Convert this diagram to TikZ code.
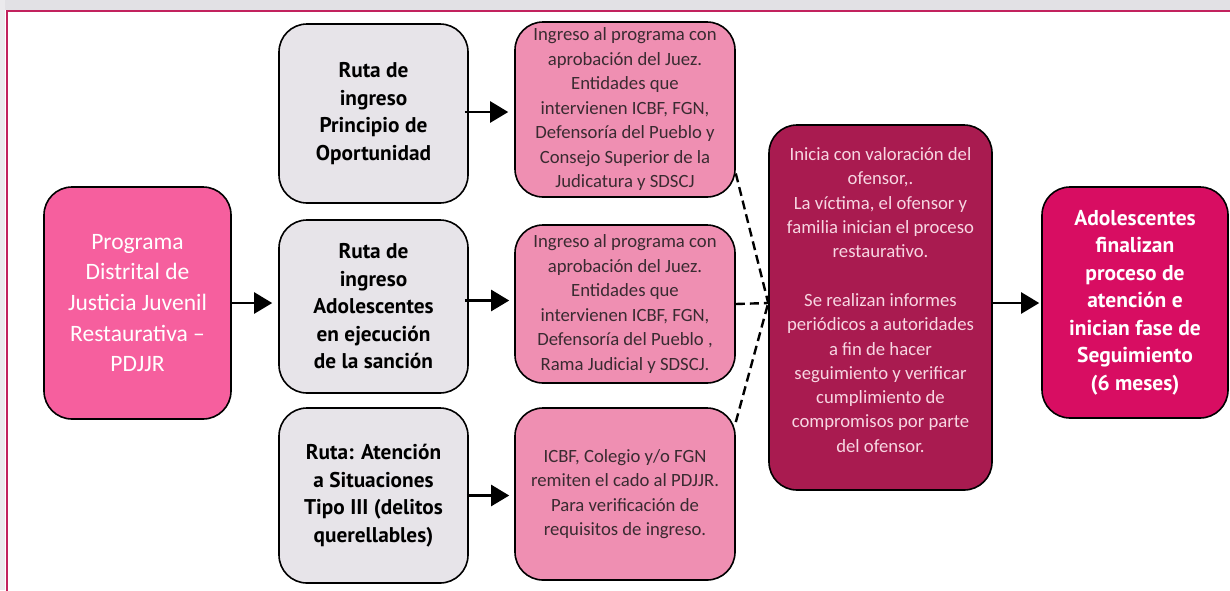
\documentclass[tikz,border=0pt]{standalone}
\usepackage{fontspec}
\setmainfont{Carlito}
\newfontfamily\boldsans{PT Sans}
\usetikzlibrary{arrows.meta,calc}
\definecolor{bandgray}{HTML}{E2E1E5}
\definecolor{framecol}{HTML}{C2225E}
\definecolor{startpink}{HTML}{F65F9E}
\definecolor{graybox}{HTML}{E7E4E9}
\definecolor{pinkbox}{HTML}{EF8FB2}
\definecolor{crimson}{HTML}{A91B50}
\definecolor{finalbox}{HTML}{D80D62}
\definecolor{darktext}{HTML}{3A2B31}
\definecolor{lighttext}{HTML}{F7D6E2}
\tikzset{
  box/.style={draw=black, line width=1.6pt, rounded corners=28pt, align=center, inner sep=0pt},
  startbox/.style={box, fill=startpink, text=white, minimum width=187pt, minimum height=232pt,
    font=\fontsize{23.5}{30.7}\selectfont},
  routebox/.style={box, fill=graybox, text=black, minimum width=189pt,
    font=\boldsans\bfseries\fontsize{21.3}{27.5}\selectfont},
  infobox/.style={box, fill=pinkbox, text=darktext, minimum width=220pt,
    font=\fontsize{18.7}{24.5}\selectfont},
  procbox/.style={box, fill=crimson, minimum width=223pt, minimum height=365pt},
  proctext/.style={align=center, inner sep=0pt, text=lighttext, font=\fontsize{18.7}{24.3}\selectfont},
  endbox/.style={box, fill=finalbox, text=white, minimum width=186pt, minimum height=231pt,
    font=\boldsans\bfseries\fontsize{21.5}{27.5}\selectfont},
  arr/.style={line width=2.3pt, -{Triangle[length=18pt,width=21pt]}},
  dsh/.style={line width=2.4pt, dash pattern=on 9pt off 5pt}
}
\begin{document}
\begin{tikzpicture}[x=1pt,y=-1pt]
\useasboundingbox (0,0) rectangle (1230,590);
\fill[bandgray] (0,0) rectangle (1230,10);
\fill[bandgray!70] (0,0) rectangle (5,590);
\draw[framecol, line width=2.2pt] (7,592) -- (7,11) -- (1232,11);

\node[startbox] (s) at (137.5,303) {Programa\\Distrital de\\Justicia Juvenil\\Restaurativa --\\PDJJR};

\node[routebox, minimum height=179pt] (g1) at (373.5,113.5) {Ruta de\\ingreso\\Principio de\\Oportunidad};
\node[routebox, minimum height=173pt] (g2) at (373.5,306.5) {Ruta de\\ingreso\\Adolescentes\\en ejecución\\de la sanción};
\node[routebox, minimum height=175pt] (g3) at (373.5,495.5) {Ruta: Atención\\a Situaciones\\Tipo III (delitos\\querellables)};

\node[infobox, minimum height=175pt] (p1) at (625,109.5) {Ingreso al programa con\\aprobación del Juez.\\Entidades que\\intervienen ICBF, FGN,\\Defensoría del Pueblo y\\Consejo Superior de la\\Judicatura y SDSCJ};
\node[infobox, minimum height=158pt] (p2) at (625,304) {Ingreso al programa con\\aprobación del Juez.\\Entidades que\\intervienen ICBF, FGN,\\Defensoría del Pueblo ,\\Rama Judicial y SDSCJ.};
\node[infobox, minimum height=172pt] (p3) at (625,494) {ICBF, Colegio y/o FGN\\remiten el cado al PDJJR.\\Para verificación de\\requisitos de ingreso.};

\node[procbox] (c) at (880.5,307.5) {};
\node[proctext] (ct) at (880.5,300) {Inicia con valoración del\\ofensor,.\\La víctima, el ofensor y\\familia inician el proceso\\restaurativo.\\[24.3pt]Se realizan informes\\periódicos a autoridades\\a fin de hacer\\seguimiento y verificar\\cumplimiento de\\compromisos por parte\\del ofensor.};

\node[endbox] (f) at (1135,302.5) {Adolescentes\\finalizan\\proceso de\\atención e\\inician fase de\\Seguimiento\\(6 meses)};

\draw[arr, shorten >=6pt] (s.east) -- (s.east -| g2.west);
\draw[arr, shorten <=-4pt, shorten >=6pt] ([yshift=1.5pt]g1.east) -- ([yshift=1.5pt]g1.east -| p1.west);
\draw[arr, shorten <=-4pt, shorten >=5pt] ([yshift=6pt]g2.east) -- ([yshift=6pt]g2.east -| p2.west);
\draw[arr, shorten <=-2pt, shorten >=5pt] (g3.east) -- (g3.east -| p3.west);
\draw[arr, shorten >=2pt] ([yshift=4.5pt]c.east) -- ([yshift=4.5pt]c.east -| f.west);

\draw[dsh] (p1.-30) -- ([yshift=4.5pt]c.west);
\draw[dsh] (p2.east) -- ([yshift=4.5pt]c.west);
\draw[dsh] (p3.33) -- ([yshift=4.5pt]c.west);
\end{tikzpicture}
\end{document}
